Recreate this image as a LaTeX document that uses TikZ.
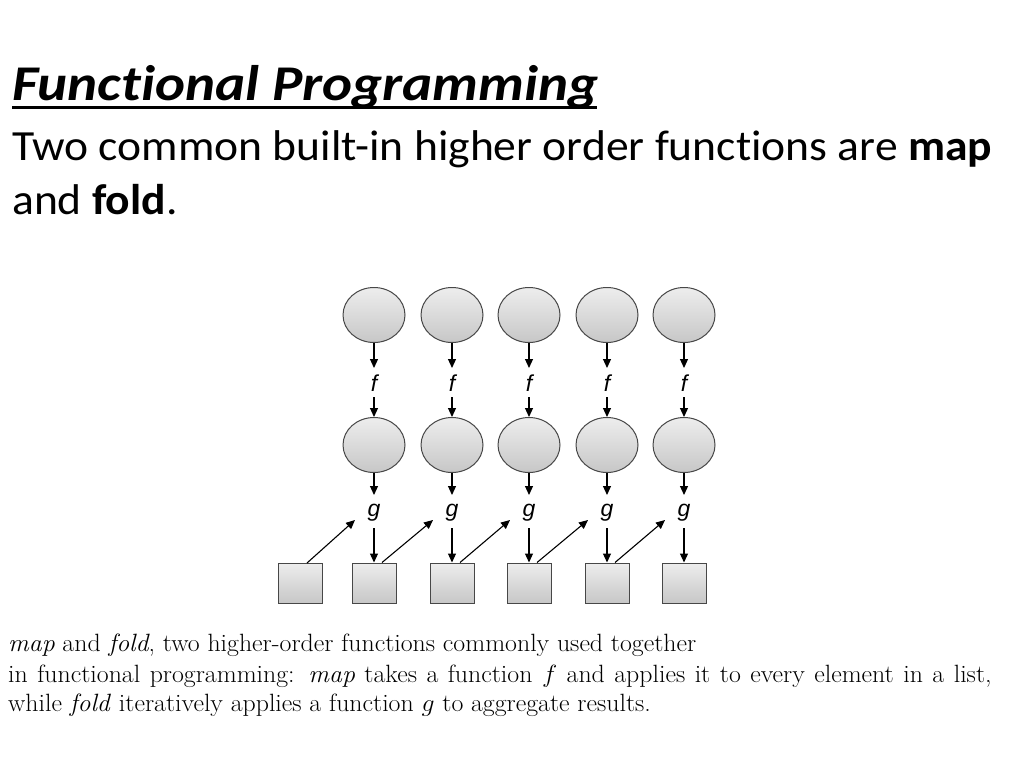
\documentclass[tikz,border=0pt]{standalone}
\usepackage{fontspec}
\setmainfont{Latin Modern Roman}
\newfontfamily\calib[Ligatures=NoCommon]{Carlito}
\newfontfamily\arialf{Liberation Sans}
\usetikzlibrary{arrows.meta,shapes.geometric}
\tikzset{
  circ/.style={ellipse,draw=black!72,line width=1pt,minimum width=62pt,minimum height=55pt,inner sep=0pt,top color=black!7,bottom color=black!22},
  sq/.style={rectangle,draw=black!72,line width=1pt,minimum width=44pt,minimum height=40pt,inner sep=0pt,top color=black!7,bottom color=black!22},
  lbl/.style={font=\arialf\itshape\fontsize{23}{23}\selectfont,inner sep=0pt},
  arr/.style={line width=1.2pt,-{Triangle[length=9pt,width=8pt]}},
  captext/.style={anchor=base west,inner sep=0pt,font=\fontsize{25}{25}\selectfont,xscale=1.033}
}
\begin{document}
\begin{tikzpicture}[x=1pt,y=-1pt]
\useasboundingbox[fill=white] (0,0) rectangle (1024,768);
\node[anchor=base west,inner sep=0pt,xscale=1.14,font=\calib\bfseries\itshape\fontsize{50}{50}\selectfont] (title) at (12,100) {Functional Programming};
\draw[line width=3pt] (12,107) -- (597,107);
\node[anchor=base west,inner sep=0pt,xscale=1.06,font=\calib\fontsize{43}{43}\selectfont] (l1) at (12,160) {Two common built-in higher order functions are \textbf{map}};
\node[anchor=base west,inner sep=0pt,xscale=1.06,font=\calib\fontsize{43}{43}\selectfont] (l2) at (12,214) {and \textbf{fold}.};

\foreach \i/\x in {1/374,2/452,3/529,4/607,5/684}{
  \node[circ] (a\i) at (\x,315) {};
  \node[circ] (b\i) at (\x,445) {};
  \node[lbl] (f\i) at (\x,383) {f};
  \node[lbl] (g\i) at (\x,513) {g};
  \node[sq] (s\i) at (\x,583) {};
  \coordinate (fa\i) at (\x,368);
  \coordinate (fb\i) at (\x,397);
  \coordinate (ga\i) at (\x,495);
  \coordinate (gb\i) at (\x,528);
  \coordinate (gl\i) at (\x-19,520);
  \draw[arr] (a\i.south) -- (fa\i);
  \draw[arr] (fb\i) -- (b\i.north);
  \draw[arr] (b\i.south) -- (ga\i);
  \draw[arr] (gb\i) -- (s\i.north);
}
\node[sq] (s0) at (300,583) {};
\coordinate (st0) at (307,563);
\foreach \i in {1,2,3,4}{
  \coordinate (st\i) at ([xshift=8pt]s\i.north);
}
\foreach \p/\n in {0/1,1/2,2/3,3/4,4/5}{
  \draw[arr,line width=1.1pt] (st\p) -- (gl\n);
}

\node[captext] (c1) at (8,651) {\textit{map} and \textit{fold}, two higher-order functions commonly used together};
\node[captext] (c2) at (8,682) {\hbox to 952pt{in functional programming: \textit{map} takes a function $f$ and applies it to every element in a list,}};
\node[captext] (c3) at (8,711) {while \textit{fold} iteratively applies a function $g$ to aggregate results.};
\end{tikzpicture}
\end{document}
